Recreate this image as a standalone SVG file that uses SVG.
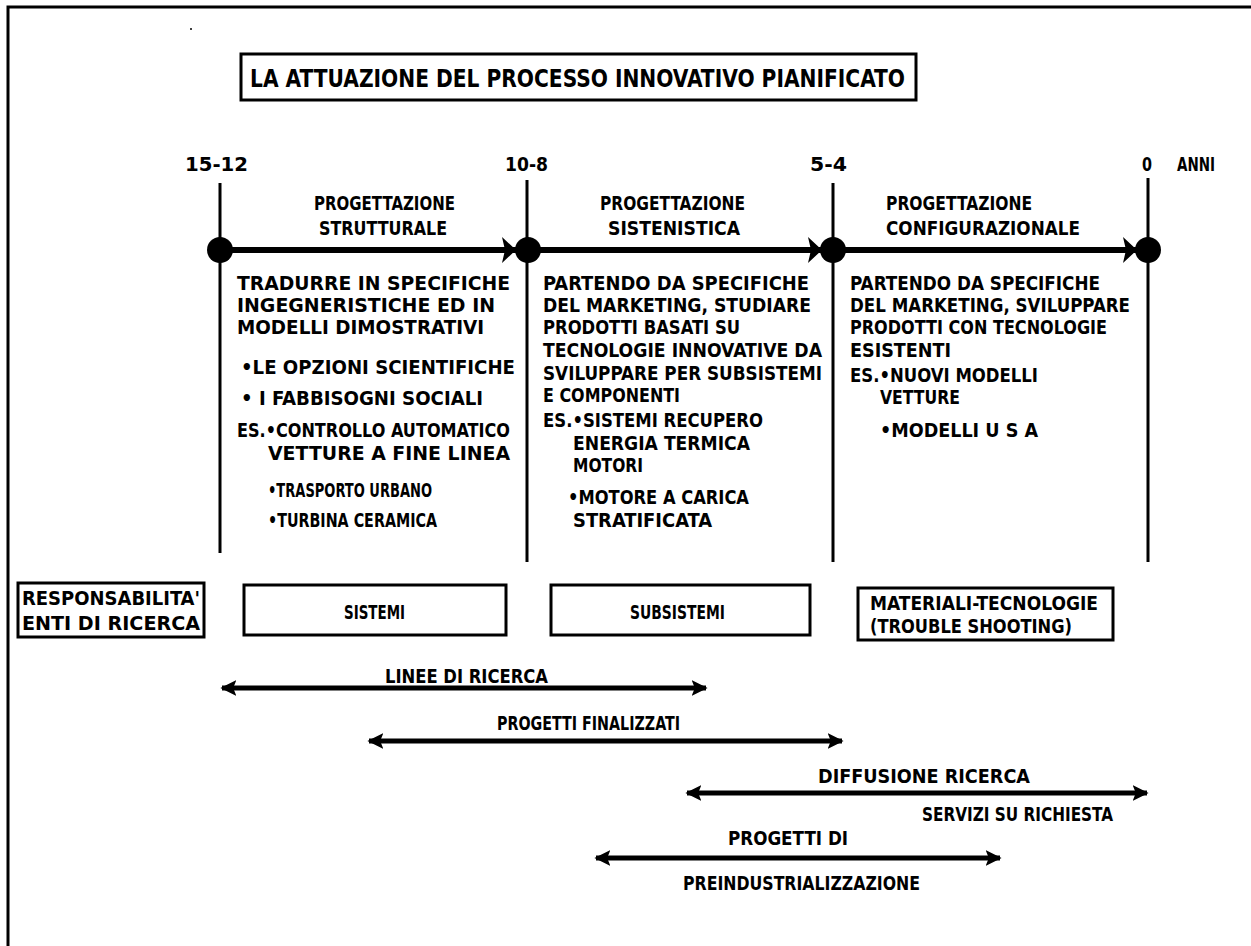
<svg xmlns="http://www.w3.org/2000/svg" width="1251" height="946" viewBox="0 0 1251 946">
  <style>
    text { font-family: "DejaVu Sans Condensed", "Liberation Sans Narrow", "DejaVu Sans", sans-serif; font-weight: bold; font-size: 20px; fill: #000; }
    .title { font-size: 25px; }
    .frame { stroke: #000; stroke-width: 3; fill: none; }
    .box { stroke: #000; stroke-width: 3; fill: #fff; }
    .tick { stroke: #000; stroke-width: 3; fill: none; }
    .axis { stroke: #000; stroke-width: 6; fill: none; }
    .span { stroke: #000; stroke-width: 5; fill: none; }
    .dot { fill: #000; }
  </style>
  <defs>
    <marker id="head" viewBox="0 0 10 10" refX="9" refY="5" markerWidth="3.2" markerHeight="3.8" orient="auto-start-reverse" markerUnits="strokeWidth">
      <path d="M0,0 L10,5 L0,10 L2,5 Z" fill="#000"/>
    </marker>
  </defs>

  <rect width="1251" height="946" fill="#fff"/>

  <!-- page frame: top and left edges only -->
  <path class="frame" d="M8,946 L8,7 L1251,7"/>
  <circle cx="191" cy="29" r="1" class="dot"/>

  <!-- title -->
  <g id="title">
    <rect class="box" x="241" y="54" width="675" height="46" stroke-width="4"/>
    <text class="title" x="250" y="87" textLength="655" lengthAdjust="spacingAndGlyphs">LA ATTUAZIONE DEL PROCESSO INNOVATIVO PIANIFICATO</text>
  </g>

  <!-- time scale -->
  <g id="scale">
    <text x="185" y="171" textLength="63" lengthAdjust="spacingAndGlyphs">15-12</text>
    <text x="505" y="171" textLength="43" lengthAdjust="spacingAndGlyphs">10-8</text>
    <text x="810" y="171" textLength="37" lengthAdjust="spacingAndGlyphs">5-4</text>
    <text x="1142" y="171" textLength="10" lengthAdjust="spacingAndGlyphs">0</text>
    <text x="1177" y="171" textLength="38" lengthAdjust="spacingAndGlyphs">ANNI</text>
  </g>

  <!-- timeline connectors -->
  <g id="connectors">
    <line class="tick" x1="220" y1="183" x2="220" y2="553"/>
    <line class="tick" x1="527" y1="180" x2="527" y2="562"/>
    <line class="tick" x1="833" y1="183" x2="833" y2="562"/>
    <line class="tick" x1="1148" y1="178" x2="1148" y2="562"/>

    <line class="axis" x1="220" y1="250" x2="1148" y2="250"/>
    <path class="dot" d="M502,237 L516,250 L502,263 L505,250 Z"/>
    <path class="dot" d="M808,237 L822,250 L808,263 L811,250 Z"/>
    <path class="dot" d="M1123,237 L1137,250 L1123,263 L1126,250 Z"/>
    <circle class="dot" cx="220" cy="250" r="13"/>
    <circle class="dot" cx="528" cy="250" r="13"/>
    <circle class="dot" cx="833" cy="250" r="13"/>
    <circle class="dot" cx="1148" cy="250" r="13"/>

    <line class="span" x1="222" y1="688" x2="706" y2="688" marker-start="url(#head)" marker-end="url(#head)"/>
    <line class="span" x1="369" y1="741" x2="842" y2="741" marker-start="url(#head)" marker-end="url(#head)"/>
    <line class="span" x1="687" y1="793" x2="1147" y2="793" marker-start="url(#head)" marker-end="url(#head)"/>
    <line class="span" x1="596" y1="858" x2="1000" y2="858" marker-start="url(#head)" marker-end="url(#head)"/>
  </g>

  <!-- phase 1 -->
  <g id="phase-strutturale">
    <text x="314" y="210" textLength="141" lengthAdjust="spacingAndGlyphs">PROGETTAZIONE</text>
    <text x="319" y="235" textLength="128" lengthAdjust="spacingAndGlyphs">STRUTTURALE</text>
    <text x="237" y="290" textLength="273" lengthAdjust="spacingAndGlyphs">TRADURRE IN SPECIFICHE</text>
    <text x="237" y="312" textLength="258" lengthAdjust="spacingAndGlyphs">INGEGNERISTICHE ED IN</text>
    <text x="237" y="334" textLength="247" lengthAdjust="spacingAndGlyphs">MODELLI DIMOSTRATIVI</text>
    <text x="241" y="374" textLength="274" lengthAdjust="spacingAndGlyphs">•LE OPZIONI SCIENTIFICHE</text>
    <text x="241" y="405" textLength="242" lengthAdjust="spacingAndGlyphs">• I FABBISOGNI SOCIALI</text>
    <text x="237" y="437" textLength="273" lengthAdjust="spacingAndGlyphs">ES.•CONTROLLO AUTOMATICO</text>
    <text x="268" y="460" textLength="242" lengthAdjust="spacingAndGlyphs">VETTURE A FINE LINEA</text>
    <text x="268" y="497" textLength="164" lengthAdjust="spacingAndGlyphs">•TRASPORTO URBANO</text>
    <text x="268" y="527" textLength="169" lengthAdjust="spacingAndGlyphs">•TURBINA CERAMICA</text>
  </g>

  <!-- phase 2 -->
  <g id="phase-sistenistica">
    <text x="600" y="210" textLength="145" lengthAdjust="spacingAndGlyphs">PROGETTAZIONE</text>
    <text x="608" y="235" textLength="132" lengthAdjust="spacingAndGlyphs">SISTENISTICA</text>
    <text x="543" y="290" textLength="266" lengthAdjust="spacingAndGlyphs">PARTENDO DA SPECIFICHE</text>
    <text x="543" y="312" textLength="268" lengthAdjust="spacingAndGlyphs">DEL MARKETING, STUDIARE</text>
    <text x="543" y="334" textLength="197" lengthAdjust="spacingAndGlyphs">PRODOTTI BASATI SU</text>
    <text x="543" y="357" textLength="279" lengthAdjust="spacingAndGlyphs">TECNOLOGIE INNOVATIVE DA</text>
    <text x="543" y="380" textLength="279" lengthAdjust="spacingAndGlyphs">SVILUPPARE PER SUBSISTEMI</text>
    <text x="543" y="402" textLength="137" lengthAdjust="spacingAndGlyphs">E COMPONENTI</text>
    <text x="543" y="427" textLength="220" lengthAdjust="spacingAndGlyphs">ES.•SISTEMI RECUPERO</text>
    <text x="573" y="450" textLength="177" lengthAdjust="spacingAndGlyphs">ENERGIA TERMICA</text>
    <text x="573" y="472" textLength="70" lengthAdjust="spacingAndGlyphs">MOTORI</text>
    <text x="568" y="504" textLength="181" lengthAdjust="spacingAndGlyphs">•MOTORE A CARICA</text>
    <text x="573" y="527" textLength="139" lengthAdjust="spacingAndGlyphs">STRATIFICATA</text>
  </g>

  <!-- phase 3 -->
  <g id="phase-configurazionale">
    <text x="886" y="210" textLength="146" lengthAdjust="spacingAndGlyphs">PROGETTAZIONE</text>
    <text x="886" y="235" textLength="194" lengthAdjust="spacingAndGlyphs">CONFIGURAZIONALE</text>
    <text x="850" y="290" textLength="250" lengthAdjust="spacingAndGlyphs">PARTENDO DA SPECIFICHE</text>
    <text x="850" y="312" textLength="280" lengthAdjust="spacingAndGlyphs">DEL MARKETING, SVILUPPARE</text>
    <text x="850" y="334" textLength="257" lengthAdjust="spacingAndGlyphs">PRODOTTI CON TECNOLOGIE</text>
    <text x="850" y="357" textLength="101" lengthAdjust="spacingAndGlyphs">ESISTENTI</text>
    <text x="850" y="382" textLength="188" lengthAdjust="spacingAndGlyphs">ES.•NUOVI MODELLI</text>
    <text x="880" y="404" textLength="80" lengthAdjust="spacingAndGlyphs">VETTURE</text>
    <text x="880" y="437" textLength="158" lengthAdjust="spacingAndGlyphs">•MODELLI U S A</text>
  </g>

  <!-- responsibility boxes -->
  <g id="box-responsabilita">
    <rect class="box" x="18" y="583" width="186" height="54" stroke-width="4"/>
    <text x="22" y="605" textLength="178" lengthAdjust="spacingAndGlyphs">RESPONSABILITA'</text>
    <text x="22" y="630" textLength="178" lengthAdjust="spacingAndGlyphs">ENTI DI RICERCA</text>
  </g>
  <g id="box-sistemi">
    <rect class="box" x="244" y="585" width="262" height="50"/>
    <text x="344" y="619" textLength="61" lengthAdjust="spacingAndGlyphs">SISTEMI</text>
  </g>
  <g id="box-subsistemi">
    <rect class="box" x="551" y="585" width="259" height="50"/>
    <text x="630" y="619" textLength="95" lengthAdjust="spacingAndGlyphs">SUBSISTEMI</text>
  </g>
  <g id="box-materiali">
    <rect class="box" x="858" y="588" width="255" height="52"/>
    <text x="870" y="610" textLength="228" lengthAdjust="spacingAndGlyphs">MATERIALI-TECNOLOGIE</text>
    <text x="870" y="633" textLength="202" lengthAdjust="spacingAndGlyphs">(TROUBLE SHOOTING)</text>
  </g>

  <!-- activity span labels -->
  <g id="span-linee">
    <text x="385" y="683" textLength="163" lengthAdjust="spacingAndGlyphs">LINEE DI RICERCA</text>
  </g>
  <g id="span-finalizzati">
    <text x="497" y="730" textLength="183" lengthAdjust="spacingAndGlyphs">PROGETTI FINALIZZATI</text>
  </g>
  <g id="span-diffusione">
    <text x="818" y="783" textLength="212" lengthAdjust="spacingAndGlyphs">DIFFUSIONE RICERCA</text>
    <text x="922" y="821" textLength="191" lengthAdjust="spacingAndGlyphs">SERVIZI SU RICHIESTA</text>
  </g>
  <g id="span-preindustrializzazione">
    <text x="728" y="845" textLength="120" lengthAdjust="spacingAndGlyphs">PROGETTI DI</text>
    <text x="683" y="890" textLength="237" lengthAdjust="spacingAndGlyphs">PREINDUSTRIALIZZAZIONE</text>
  </g>
</svg>
